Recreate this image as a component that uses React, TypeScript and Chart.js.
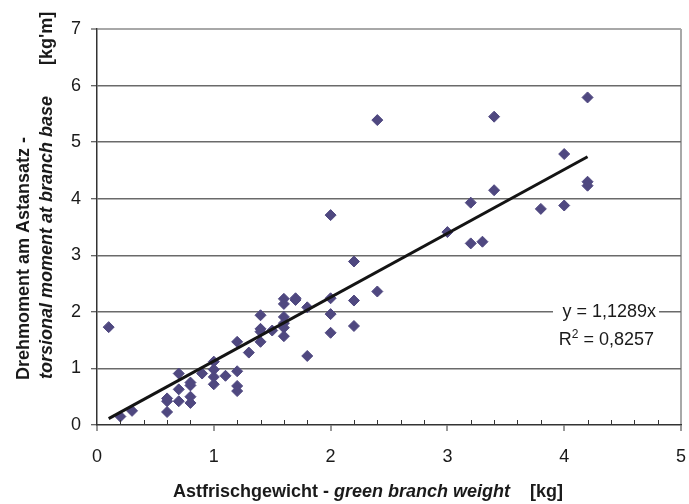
import React, { useEffect, useRef } from "react";
import { Chart, registerables } from "chart.js";

Chart.register(...registerables);

// ---- data ----
const branchWeightKg = [
  0.1, 0.2, 0.3, 0.6, 0.6, 0.6, 0.7, 0.7, 0.7, 0.8, 0.8, 0.8, 0.8, 0.9, 1.0, 1.0, 1.0, 1.0, 1.1, 1.2,
  1.2, 1.2, 1.2, 1.3, 1.4, 1.4, 1.4, 1.4, 1.5, 1.6, 1.6, 1.6, 1.6, 1.6, 1.6, 1.7, 1.7, 1.8, 1.8, 2.0,
  2.0, 2.0, 2.0, 2.2, 2.2, 2.2, 2.4, 2.4, 3.0, 3.2, 3.2, 3.3, 3.4, 3.4, 3.8, 4.0, 4.0, 4.2, 4.2, 4.2,
];
const torsionalMoment = [
  1.73, 0.15, 0.25, 0.23, 0.42, 0.47, 0.91, 0.63, 0.42, 0.75, 0.7, 0.5, 0.39, 0.91, 1.12, 0.98, 0.85, 0.72, 0.87, 1.47,
  0.95, 0.69, 0.6, 1.28, 1.94, 1.7, 1.65, 1.47, 1.67, 2.23, 2.14, 1.91, 1.8, 1.72, 1.57, 2.24, 2.21, 2.08, 1.22, 3.71,
  2.24, 1.96, 1.63, 2.89, 2.2, 1.75, 5.39, 2.36, 3.41, 3.93, 3.21, 3.24, 5.45, 4.15, 3.82, 4.79, 3.88, 5.79, 4.3, 4.23,
];
const trendSlope = 1.1289;
const trendXRange = [0.1, 4.2];
const trendLabel = "y = 1,1289x";
const rSquaredValue = "0,8257";
const xAxisMin = 0;
const xAxisMax = 5;
const yAxisMin = 0;
const yAxisMax = 7;
const minorTickStep = 0.2;
const xTitleParts = [
  { text: "Astfrischgewicht - ", italic: false },
  { text: "green branch weight", italic: true },
  { text: "    [kg]", italic: false },
];
const yTitleLine1 = "Drehmoment am Astansatz -";
const yTitleLine2 = "torsional moment at branch base";
const yTitleUnit = "[kg'm]";

const FONT = "'Liberation Sans', Arial, sans-serif";
const MARKER = "#4f4880";

const decorPlugin = {
  id: "decor",
  afterDatasetsDraw(chart: any) {
    const { ctx, chartArea } = chart;
    // regression label with white background
    ctx.save();
    const right = chartArea.right - 26;
    ctx.fillStyle = "#ffffff";
    ctx.fillRect(right - 102, chartArea.top + 269, 106, 56);
    ctx.fillStyle = "#1a1a1a";
    ctx.textBaseline = "alphabetic";
    ctx.font = `18px ${FONT}`;
    ctx.textAlign = "right";
    ctx.fillText(trendLabel, right + 1, chartArea.top + 288);
    // R² line
    const big = `18px ${FONT}`;
    const small = `12px ${FONT}`;
    const rest = " = " + rSquaredValue;
    ctx.font = big;
    const wR = ctx.measureText("R").width;
    const wRest = ctx.measureText(rest).width;
    ctx.font = small;
    const w2 = ctx.measureText("2").width;
    const total = wR + w2 + wRest;
    const x0 = right - 1 - total;
    const base2 = chartArea.top + 316;
    ctx.textAlign = "left";
    ctx.font = big;
    ctx.fillText("R", x0, base2);
    ctx.font = small;
    ctx.fillText("2", x0 + wR, base2 - 7);
    ctx.font = big;
    ctx.fillText(rest, x0 + wR + w2, base2);
    ctx.restore();
  },
  afterDraw(chart: any) {
    const { ctx, chartArea, scales } = chart;
    const xs = scales.x;
    ctx.save();
    // minor ticks (inside) on x axis
    ctx.strokeStyle = "#333333";
    ctx.lineWidth = 1;
    const n = Math.round((xAxisMax - xAxisMin) / minorTickStep);
    for (let i = 1; i < n; i++) {
      const v = xAxisMin + i * minorTickStep;
      if (Math.abs(v - Math.round(v)) < 1e-6) continue;
      const px = Math.round(xs.getPixelForValue(v)) + 0.5;
      ctx.beginPath();
      ctx.moveTo(px, chartArea.bottom);
      ctx.lineTo(px, chartArea.bottom - 5);
      ctx.stroke();
    }
    // x axis title
    ctx.fillStyle = "#1a1a1a";
    ctx.textBaseline = "alphabetic";
    ctx.textAlign = "left";
    let x = chartArea.left + 76;
    const y = chartArea.bottom + 72;
    for (const p of xTitleParts) {
      ctx.font = `${p.italic ? "italic " : ""}bold 18px ${FONT}`;
      ctx.fillText(p.text, x, y);
      x += ctx.measureText(p.text).width;
    }
    // y axis title (rotated)
    ctx.save();
    ctx.translate(29, chartArea.top + 351);
    ctx.rotate(-Math.PI / 2);
    ctx.font = `bold 18px ${FONT}`;
    ctx.fillText(yTitleLine1, 0, 0);
    ctx.restore();
    ctx.save();
    ctx.translate(52, chartArea.top + 350);
    ctx.rotate(-Math.PI / 2);
    ctx.font = `italic bold 18px ${FONT}`;
    ctx.fillText(yTitleLine2, 0, 0);
    ctx.restore();
    ctx.save();
    ctx.translate(52, chartArea.top + 36);
    ctx.rotate(-Math.PI / 2);
    ctx.font = `bold 18px ${FONT}`;
    ctx.fillText(yTitleUnit, 0, 0);
    ctx.restore();
    ctx.restore();
  },
};

export default function App() {
  const canvasRef = useRef<HTMLCanvasElement | null>(null);

  useEffect(() => {
    document.body.style.margin = "0";
    const canvas = canvasRef.current;
    if (!canvas) return;
    const points = branchWeightKg.map((x, i) => ({ x, y: torsionalMoment[i] }));
    const trend = trendXRange.map((x) => ({ x, y: x * trendSlope }));
    const tickFont = { family: FONT, size: 18 };
    const chart = new Chart(canvas, {
      type: "scatter",
      data: {
        datasets: [
          {
            type: "line",
            label: "trend",
            data: trend,
            borderColor: "#141414",
            borderWidth: 3,
            pointRadius: 0,
            fill: false,
            order: 0,
          } as any,
          {
            label: "data",
            data: points,
            pointStyle: "rectRot",
            pointRadius: 5.5,
            borderWidth: 1,
            backgroundColor: MARKER,
            borderColor: MARKER,
            order: 1,
          },
        ],
      },
      options: {
        animation: false,
        responsive: true,
        maintainAspectRatio: false,
        layout: { padding: { top: 29, right: 8, left: 0, bottom: 0 } },
        plugins: { legend: { display: false }, tooltip: { enabled: false }, title: { display: false } },
        scales: {
          x: {
            type: "linear",
            min: xAxisMin,
            max: xAxisMax,
            ticks: { stepSize: 1, font: tickFont, color: "#1a1a1a", padding: 15 },
            grid: {
              color: (c: any) => (c.tick && c.tick.value === xAxisMax ? "#a8a8a8" : "rgba(0,0,0,0)"),
              lineWidth: 2,
              tickColor: "#333333",
              tickLength: 6,
              tickWidth: 1,
            },
            border: { color: "#333333", width: 1.5 },
            afterFit: (s: any) => {
              s.height = 79;
              s.paddingLeft = 0;
              s.paddingRight = 0;
            },
          },
          y: {
            min: yAxisMin,
            max: yAxisMax,
            ticks: { stepSize: 1, font: tickFont, color: "#1a1a1a", padding: 10 },
            grid: {
              color: (c: any) => {
                const v = c.tick ? c.tick.value : -1;
                if (v === yAxisMin) return "rgba(0,0,0,0)";
                if (v === yAxisMax) return "#a8a8a8";
                return "#6a6a6a";
              },
              lineWidth: (c: any) => (c.tick && c.tick.value === yAxisMax ? 2 : 1.5),
              tickColor: "#333333",
              tickLength: 6,
              tickWidth: 1,
            },
            border: { color: "#333333", width: 1.5 },
            afterFit: (s: any) => {
              s.width = 97;
              s.paddingTop = 0;
              s.paddingBottom = 0;
            },
          },
        },
      },
      plugins: [decorPlugin],
    });
    return () => chart.destroy();
  }, []);

  return (
    <div style={{ position: "absolute", left: 0, top: 0, width: 689, height: 504, background: "#fff" }}>
      <canvas ref={canvasRef} />
    </div>
  );
}
